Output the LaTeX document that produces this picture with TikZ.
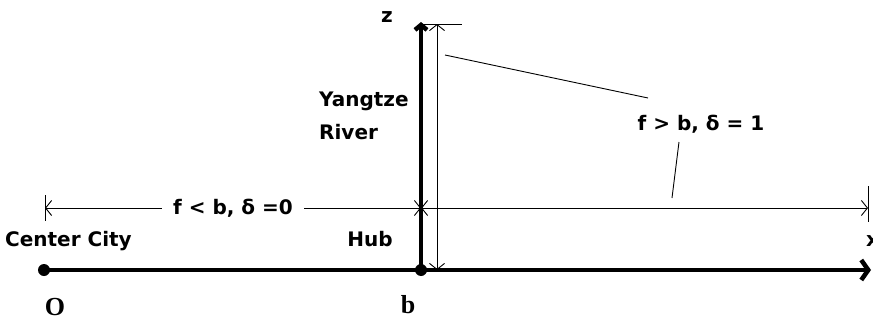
\documentclass[tikz,border=0pt]{standalone}
\usepackage{fontspec}
\setmainfont{DejaVu Sans}
\newfontfamily\serifb{Liberation Serif}
\usetikzlibrary{arrows.meta}
\begin{document}
\begin{tikzpicture}[x=1pt,y=-1pt,
  lbl/.style={font=\bfseries\fontsize{20}{23}\selectfont, inner sep=0pt},
  sym/.style={font=\serifb\bfseries\fontsize{26}{29}\selectfont, inner sep=0pt},
  axis/.style={line width=4.5pt},
  dim/.style={line width=0.9pt, {Straight Barb[length=6pt,width=15pt]}-{Straight Barb[length=6pt,width=15pt]}},
  thinline/.style={line width=0.9pt}]
\useasboundingbox (0,0) rectangle (873,324);
\coordinate (O) at (44,270);
\coordinate (hub) at (421,270);
\coordinate (xend) at (871,270);
\coordinate (ztop) at (421,22);
\coordinate (dtop) at (437,24);
\coordinate (dbot) at (437,270);
\coordinate (hl) at (45,208);
\coordinate (hm) at (421,208);
\coordinate (hr) at (868,208);
% axes
\draw[axis, -{Straight Barb[length=7pt,width=20pt]}] (O) -- (xend);
\draw[axis, -{Straight Barb[length=5pt,width=12pt]}] (hub) -- (ztop);
\fill (O) circle (6);
\fill (hub) circle (6);
% vertical dimension
\draw[dim] (dtop) -- (dbot);
\draw[thinline] (421,24) -- (462,24);
% horizontal dimensions
\draw[dim] (hl) -- node[lbl, fill=white, inner xsep=11pt, inner ysep=3pt] (lab1) {f < b, δ =0} (hm);
\draw[dim] (hm) -- (hr);
\draw[thinline] (45,195) -- (45,221);
\draw[thinline] (868,186) -- (868,222);
% label f>b
\node[lbl, anchor=base] (lab2) at (701,130) {f > b, δ = 1};
\coordinate (lead1a) at (445,55);
\coordinate (lead1b) at (648,98);
\draw[thinline] (lead1a) -- (lead1b);
\coordinate (lead2a) at (679,142);
\coordinate (lead2b) at (672,198);
\draw[thinline] (lead2a) -- (lead2b);
% text labels
\node[lbl, anchor=base west] (river1) at (319,106) {Yangtze};
\node[lbl, anchor=base west] (river2) at (319,139) {River};
\node[lbl, anchor=base west] (city) at (5,246) {Center City};
\node[lbl, anchor=base] (hubl) at (370,246) {Hub};
\node[sym, anchor=base] (ol) at (55,315) {O};
\node[sym, anchor=base] (bl) at (408,313) {b};
\node[lbl, anchor=base] (zl) at (387,23) {z};
\node[lbl, anchor=base west] (xl) at (866,246) {x};
\end{tikzpicture}
\end{document}
